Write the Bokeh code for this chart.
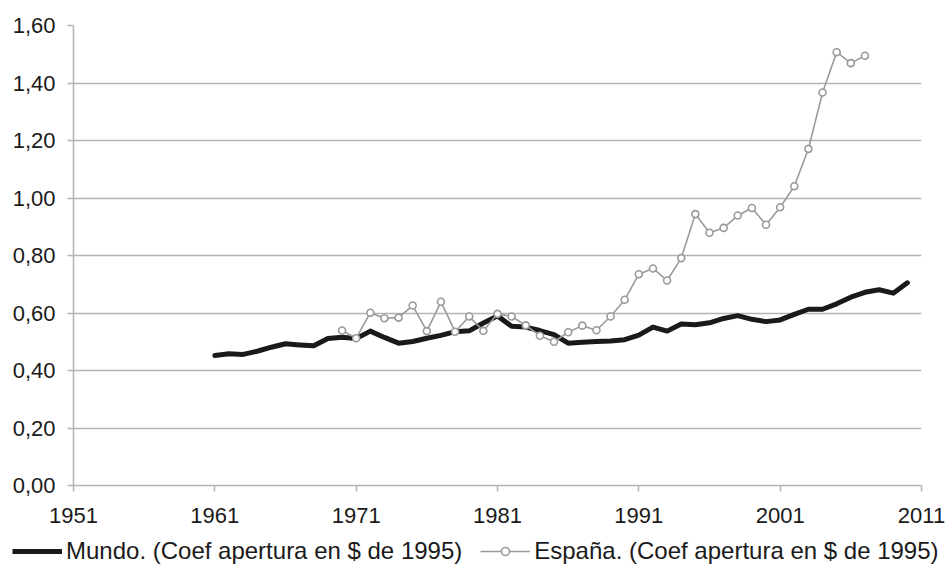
from bokeh.plotting import figure
from bokeh.layouts import column
from bokeh.models import Range1d, FixedTicker, Legend, LegendItem
from bokeh.embed import file_html
from bokeh.resources import INLINE

world_years = list(range(1961, 2011))
world_values = [0.452, 0.458, 0.456, 0.467, 0.481, 0.493, 0.489, 0.486, 0.511, 0.516,
                0.511, 0.537, 0.515, 0.495, 0.501, 0.512, 0.522, 0.535, 0.538, 0.565,
                0.590, 0.554, 0.551, 0.539, 0.525, 0.495, 0.498, 0.501, 0.503, 0.507,
                0.523, 0.551, 0.537, 0.562, 0.559, 0.566, 0.581, 0.591, 0.578, 0.570,
                0.576, 0.595, 0.613, 0.613, 0.632, 0.655, 0.672, 0.681, 0.669, 0.705]

spain_years = list(range(1970, 2008))
spain_values = [0.539, 0.512, 0.601, 0.582, 0.584, 0.626, 0.537, 0.639, 0.535, 0.588,
                0.538, 0.597, 0.588, 0.557, 0.521, 0.500, 0.533, 0.556, 0.540, 0.588,
                0.646, 0.735, 0.755, 0.713, 0.791, 0.944, 0.879, 0.896, 0.939, 0.965,
                0.907, 0.968, 1.041, 1.171, 1.367, 1.507, 1.469, 1.495]

x_ticks = [1951, 1961, 1971, 1981, 1991, 2001, 2011]
x_tick_labels = ["1951", "1961", "1971", "1981", "1991", "2001", "2011"]
y_ticks = [0.0, 0.2, 0.4, 0.6, 0.8, 1.0, 1.2, 1.4, 1.6]
y_tick_labels = ["0,00", "0,20", "0,40", "0,60", "0,80", "1,00", "1,20", "1,40", "1,60"]

label_world = "Mundo. (Coef apertura en $ de 1995)"
label_spain = "España. (Coef apertura en $ de 1995)"

FONT = "Liberation Sans"
GRID = "#b4b4b4"
SPAIN = "#9a9a9a"
WORLD = "#1a1a1a"
NAN = float("nan")

p = figure(width=946, height=528, output_backend="svg", toolbar_location=None,
           x_range=Range1d(1951, 2011), y_range=Range1d(0, 1.6),
           min_border_left=73, min_border_right=25, min_border_top=25, min_border_bottom=43)
p.frame_align = False
p.outline_line_color = None
p.background_fill_color = "white"
p.border_fill_color = "white"

p.xgrid.visible = False
p.ygrid.grid_line_color = GRID
p.ygrid.grid_line_width = 1.5
p.ygrid.ticker = FixedTicker(ticks=y_ticks)

p.xaxis.ticker = FixedTicker(ticks=x_ticks)
p.xaxis.major_label_overrides = dict(zip(x_ticks, x_tick_labels))
p.yaxis.ticker = FixedTicker(ticks=y_ticks)
p.yaxis.major_label_overrides = dict(zip(y_ticks, y_tick_labels))

for ax in (p.xaxis, p.yaxis):
    ax.axis_line_color = GRID
    ax.axis_line_width = 1.5
    ax.major_tick_line_color = GRID
    ax.major_tick_line_width = 1.5
    ax.major_tick_out = 6
    ax.major_tick_in = 0
    ax.minor_tick_line_color = None
    ax.major_label_text_font = FONT
    ax.major_label_text_font_size = "22px"
    ax.major_label_text_color = WORLD
p.yaxis.major_label_standoff = 12
p.xaxis.major_label_standoff = 16

p.line(world_years, world_values, line_color=WORLD, line_width=5,
       line_join="round", line_cap="round")
p.line(spain_years, spain_values, line_color=SPAIN, line_width=1.6)
p.scatter(spain_years, spain_values, size=7, marker="circle",
          fill_color="white", line_color=SPAIN, line_width=1.6)

# legend strip below the chart (legend-only renderers hold no visible data)
lg = figure(width=946, height=51, output_backend="svg", toolbar_location=None,
            x_range=Range1d(0, 1), y_range=Range1d(0, 1),
            x_axis_type=None, y_axis_type=None,
            min_border_left=0, min_border_right=0, min_border_top=0, min_border_bottom=0)
lg.frame_align = False
lg.outline_line_color = None
lg.grid.visible = False
lg.border_fill_color = "white"
lg.background_fill_color = "white"
leg_world = lg.line([NAN], [NAN], line_color=WORLD, line_width=5)
leg_spain = lg.line([NAN], [NAN], line_color=SPAIN, line_width=1.6)
leg_spain_pts = lg.scatter([NAN], [NAN], size=7, marker="circle",
                           fill_color="white", line_color=SPAIN, line_width=1.6)

legend = Legend(items=[LegendItem(label=label_world, renderers=[leg_world]),
                       LegendItem(label=label_spain, renderers=[leg_spain, leg_spain_pts])],
                orientation="horizontal", location=(12, 14))
legend.label_text_font = FONT
legend.label_text_font_size = "24px"
legend.label_text_color = WORLD
legend.glyph_width = 50
legend.label_standoff = 4
legend.spacing = 18
legend.padding = 0
legend.margin = 0
legend.border_line_color = None
legend.background_fill_alpha = 0
lg.add_layout(legend, "center")

layout = column(p, lg, spacing=0)
open("out.html", "w").write(file_html(layout, INLINE))
